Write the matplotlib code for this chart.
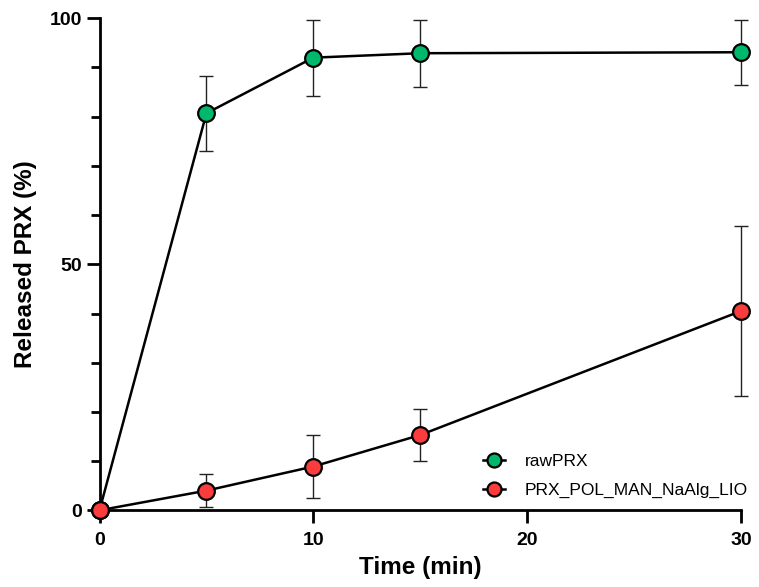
import matplotlib.pyplot as plt
import numpy as np

plt.rcParams['font.family'] = ['Liberation Sans', 'DejaVu Sans']

time = [0, 5, 10, 15, 30]
raw = [0, 80.7, 92.0, 92.9, 93.1]
raw_err = [0, 7.6, 7.7, 6.8, 6.6]
lio = [0, 4.0, 8.9, 15.3, 40.5]
lio_err = [0, 3.3, 6.5, 5.3, 17.2]

green = '#00b86b'
red = '#fa3c3c'

fig = plt.figure(figsize=(7.59, 5.87), dpi=100)
ax = fig.add_axes([99.5/759, 76.7/587, 641.5/759, 492/587])

for y, e, c, lab in [(raw, raw_err, green, 'rawPRX'), (lio, lio_err, red, 'PRX_POL_MAN_NaAlg_LIO')]:
    ax.errorbar(time, y, yerr=e, fmt='none', ecolor='#222222', elinewidth=1.0,
                capsize=5, capthick=1.0, clip_on=False, zorder=2)
    ax.plot(time, y, '-o', color='black', lw=1.8, markersize=12, markerfacecolor=c,
            markeredgecolor='black', markeredgewidth=1.6, label=lab, clip_on=False, zorder=3)

ax.set_xlim(0, 30)
ax.set_ylim(0, 100)
ax.set_xticks([0, 10, 20, 30])
ax.set_yticks([0, 50, 100])
ax.set_yticks(np.arange(0, 101, 10), minor=True)
ax.spines['top'].set_visible(False)
ax.spines['right'].set_visible(False)
for s in ['left', 'bottom']:
    ax.spines[s].set_linewidth(2)
ax.tick_params(which='major', width=2, length=9.4, labelsize=14, pad=3)
ax.tick_params(axis='x', which='major', pad=6)
ax.tick_params(which='minor', width=2, length=6.5)
for t in ax.get_xticklabels() + ax.get_yticklabels():
    t.set_fontweight('bold')

ax.set_xlabel('Time (min)', fontsize=17.5, fontweight='bold', labelpad=5)
ax.set_ylabel('Released PRX (%)', fontsize=17.5, fontweight='bold', labelpad=9)

ax.legend(loc='upper left', bbox_to_anchor=(483/759, 1 - 454/587), bbox_transform=fig.transFigure,
          frameon=False, fontsize=12.5, borderpad=0, borderaxespad=0,
          handlelength=1.27, handletextpad=1.15, labelspacing=0.77, markerscale=0.84)

fig.savefig('out.png', dpi=100)
